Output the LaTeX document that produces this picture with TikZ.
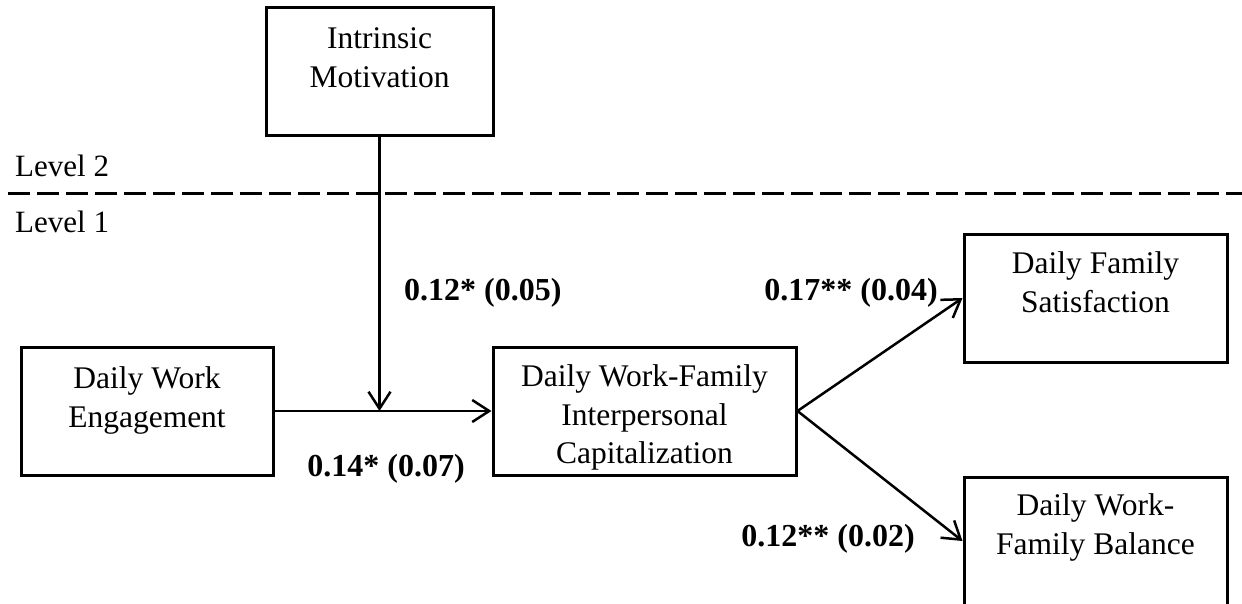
\documentclass[tikz,border=0pt]{standalone}
\usepackage{fontspec}
\setmainfont{Liberation Serif}
\usetikzlibrary{arrows.meta}
\begin{document}
\begin{tikzpicture}[x=1pt,y=-1pt,
  boxnode/.style={draw=black,line width=3pt,rectangle,inner sep=0pt},
  boxtext/.style={font=\fontsize{31.5}{38.5}\selectfont,align=center,inner sep=0pt,anchor=north},
  lvltext/.style={font=\fontsize{31}{37.5}\selectfont,inner sep=0pt},
  coef/.style={font=\fontsize{32}{37.5}\selectfont\bfseries,inner sep=0pt},
  arr/.style={line width=2.5pt,-{Straight Barb[length=17pt,width=22pt,line width=2.5pt]}}]
\useasboundingbox (0,0) rectangle (1242,603);
% boxes
\node[boxnode,minimum width=227pt,minimum height=128pt] (im) at (379.5,71) {};
\node[boxnode,minimum width=252pt,minimum height=128pt] (dwe) at (147,411) {};
\node[boxnode,minimum width=303pt,minimum height=128pt] (cap) at (644.5,411) {};
\node[boxnode,minimum width=263pt,minimum height=128pt] (fs) at (1095.5,298) {};
\node[boxnode,minimum width=263pt,minimum height=128pt] (bal) at (1095.5,541) {};
% box texts
\node[boxtext] (imt) at ([yshift=-22pt]im.north) {Intrinsic\\Motivation};
\node[boxtext] (dwet) at ([yshift=-21pt]dwe.north) {Daily Work\\Engagement};
\node[boxtext] (capt) at ([yshift=-19pt]cap.north) {Daily Work-Family\\Interpersonal\\Capitalization};
\node[boxtext] (fst) at ([yshift=-19pt]fs.north) {Daily Family\\Satisfaction};
\node[boxtext] (balt) at ([yshift=-18pt]bal.north) {Daily Work-\\Family Balance};
% level divider
\coordinate (dl) at (8,193);
\coordinate (dr) at (1242,193);
\draw[line width=3pt,dash pattern=on 22pt off 7pt] (dl) -- (dr);
\node[lvltext,anchor=base west] (l2) at (15,176) {Level 2};
\node[lvltext,anchor=base west] (l1) at (15,232) {Level 1};
% connectors
\coordinate (mod) at (im.south |- dwe.east);
\draw[arr] (dwe.east) -- (cap.west);
\draw[arr] (im.south) -- (mod);
\draw[arr] (cap.east) -- (fs.west);
\draw[arr] (cap.east) -- (bal.west);
% coefficients
\node[coef,anchor=base west] (c1) at (404,300) {0.12* (0.05)};
\node[coef,anchor=base] (c2) at (386,476) {0.14* (0.07)};
\node[coef,anchor=base east] (c3) at (938,300) {0.17** (0.04)};
\node[coef,anchor=base east] (c4) at (915,546) {0.12** (0.02)};
\end{tikzpicture}
\end{document}
